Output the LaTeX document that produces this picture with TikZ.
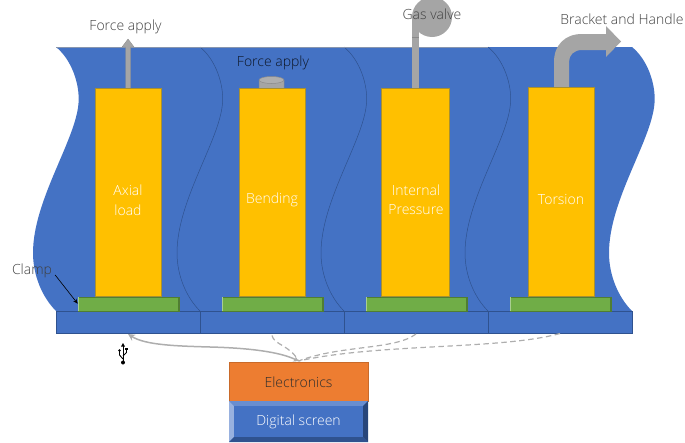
\documentclass[tikz,border=0pt]{standalone}
\usepackage{fontspec}
\setmainfont{Open Sans}[UprightFont=* Light]
\usetikzlibrary{arrows.meta,calc}
\definecolor{bl}{HTML}{4472C4}
\definecolor{bld}{HTML}{2F528F}
\definecolor{yel}{HTML}{FFC000}
\definecolor{yeld}{HTML}{A89030}
\definecolor{grn}{HTML}{70AD47}
\definecolor{grnd}{HTML}{507E32}
\definecolor{gry}{HTML}{A5A5A5}
\definecolor{gryd}{HTML}{8A8A8A}
\definecolor{org}{HTML}{ED7D31}
\definecolor{orgd}{HTML}{C96A2A}
\definecolor{txt}{HTML}{404040}
\tikzset{
  specimen/.style={draw=yeld,line width=.6pt,fill=yel,minimum width=66pt,minimum height=208pt,inner sep=0pt,anchor=south},
  spectext/.style={text=white,align=center,inner sep=0pt,font=\fontsize{14}{19.5}\selectfont},
  clampbar/.style={draw=grnd,line width=.5pt,fill=grn,minimum width=101pt,minimum height=14pt,inner sep=0pt,anchor=south},
  basebar/.style={draw=bld,line width=.5pt,fill=bl,minimum width=144pt,minimum height=22pt,inner sep=0pt,anchor=north},
  lab/.style={text=txt,font=\fontsize{14}{16}\selectfont,inner sep=0pt},
  wave/.style={draw=bld,line width=.5pt},
  link/.style={draw=gry!90,line width=1.5pt},
  dlink/.style={draw=gry!90,line width=1.2pt,dash pattern=on 5.5pt off 3.5pt},
}
\begin{document}
\begin{tikzpicture}[x=1pt,y=-1pt]
\useasboundingbox (0,0) rectangle (685,442);
% blue sheet
\fill[bl] (56,47) .. controls (72,60) and (80,85) .. (78.5,103)
  .. controls (76,140) and (33,200) .. (33,253)
  .. controls (33,275) and (42,297) .. (56,311) -- (632,311)
  .. controls (618,297) and (609,275) .. (609,253)
  .. controls (609,200) and (652,140) .. (654.5,103)
  .. controls (656,85) and (648,60) .. (632,47) -- cycle;
\foreach \d in {144,288,432}{
  \draw[wave,xshift=\d pt] (56,47) .. controls (72,60) and (80,85) .. (78.5,103)
  .. controls (76,140) and (33,200) .. (33,253)
  .. controls (33,275) and (42,297) .. (56,311);
}
\draw[draw=gry!70!bl,line width=.6pt] (56,47) -- (488,47);
% base
\node[basebar] (b1) at (128,311) {};
\node[basebar] (b2) at (272,311) {};
\node[basebar] (b3) at (416,311) {};
\node[basebar] (b4) at (560,310.5) {};
% clamps
\foreach \n/\x in {c1/128.5,c2/272.5,c3/416.5,c4/560.5}{
  \node[clampbar] (\n) at (\x,311) {};
  \fill[grn!60!white] ($(\n.north west)+(.3,.3)$) rectangle ($(\n.south west)+(1.5,-.3)$);
  \fill[grnd] ($(\n.north east)+(-1.5,.3)$) rectangle ($(\n.south east)+(-.3,-.3)$);
}
% grey attachments
\fill[gry,draw=gryd,line width=.3pt] (125.5,89) -- (125.5,47) -- (122,47) -- (128,39) -- (134,47) -- (130.5,47) -- (130.5,89) -- cycle;
\fill[gry] (432,17) circle (20);
\fill[gry] (412,17) rectangle (419,37);
\fill[gry] (412,37) rectangle (419,89);
\draw[gryd,line width=.4pt] (412,37) -- (419,37);
\fill[gry] (554,89) -- (554,62) .. controls (554,45) and (565,34) .. (582,34) -- (606,34) -- (606,26) -- (621,41.5) -- (606,57) -- (606,50) -- (582,50) .. controls (574,50) and (569,55) .. (569,62) -- (569,89) -- cycle;
\fill[gry] (259,80) rectangle (284,88);
\fill[gry] (271.5,88) ellipse[x radius=12.5,y radius=2.5];
\draw[gryd,line width=.5pt] (259,80) -- (259,88) arc[start angle=180,end angle=0,x radius=12.5,y radius=2.5] -- (284,80);
\draw[gryd,line width=.5pt,fill=gry!90!white] (271.5,80) ellipse[x radius=12.5,y radius=3.5];
% specimens
\node[specimen] (s1) at (128,297) {};
\node[specimen] (s2) at (272,297) {};
\node[specimen,minimum width=68.5pt] (s3) at (415.5,297) {};
\node[specimen,minimum height=209pt] (s4) at (561,297) {};
\node[spectext] (l1) at (128,200) {Axial\\load};
\node[spectext] (l2) at (272,200) {Bending};
\node[spectext] (l3) at (416,199.5) {Internal\\Pressure};
\node[spectext] (l4) at (561,199) {Torsion};
% electronics
\node[draw=orgd,line width=.5pt,fill=org,minimum width=139pt,minimum height=39pt,inner sep=0pt,anchor=north,font=\fontsize{14}{16}\selectfont,text=txt!70!black] (el) at (298.5,362) {Electronics};
\fill[bl] (229,401) rectangle (368,442);
\fill[bl!80!white] (229,401) -- (368,401) -- (363,406) -- (234,406) -- cycle;
\fill[bl!55!white] (229,401) -- (234,406) -- (234,437) -- (229,442) -- cycle;
\fill[bld!85!black] (368,401) -- (363,406) -- (363,437) -- (368,442) -- cycle;
\fill[bld] (229,442) -- (234,437) -- (363,437) -- (368,442) -- cycle;
\node[fill=bl,minimum width=129pt,minimum height=31pt,inner sep=0pt,text=white,font=\fontsize{14}{16}\selectfont] (ds) at (298.5,421.5) {Digital screen};
% connectors
\coordinate (e) at ($(el.north)+(0,-1)$);
\draw[link,{Stealth[length=7pt,width=7pt]}-{Stealth[length=5pt,width=6pt]}] ($(b1.south)+(0,.5)$) .. controls (145,345) and (175,346) .. (210,347) .. controls (250,348) and (280,352) .. (e);
\draw[dlink] ($(b2.south)+(0,2)$) .. controls (274,345) and (290,345) .. (e);
\draw[dlink] ($(b3.south)+(0,.5)$) .. controls (395,350) and (340,345) .. (e);
\draw[dlink] ($(b4.south)+(0,.5)$) .. controls (500,350) and (380,343) .. (e);
% usb
\begin{scope}[line width=.9pt,black]
\draw (123,345) -- (123,362);
\fill (123,343) -- (125,346.5) -- (121,346.5) -- cycle;
\fill (123,362.5) circle (2);
\draw (123,359) -- (119.5,355) -- (119.5,351);
\fill (119.5,350.5) circle (1.4);
\draw (123,356) -- (126.5,352.5) -- (126.5,350);
\fill (125,347.5) rectangle (128,350);
\end{scope}
% labels
\node[lab] (t1) at (125.5,27) {Force apply};
\node[lab,text=black!80!bl] (t2) at (273,63) {Force apply};
\node[lab] (t3) at (432,14) {Gas valve};
\node[lab] (t4) at (622,19) {Bracket and Handle};
\node[lab] (t5) at (32,271) {Clamp};
\coordinate (ca) at ($(t5.east)+(3,4)$);
\draw[black,line width=.6pt,-{Stealth[length=5pt,width=4pt]}] (ca) -- (c1.west);
\end{tikzpicture}
\end{document}
